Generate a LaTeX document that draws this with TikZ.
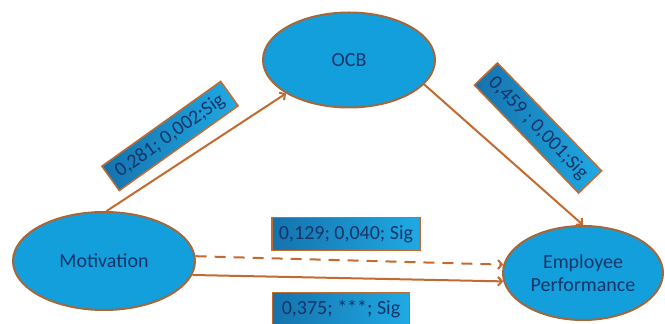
\documentclass[tikz,border=0pt]{standalone}
\usepackage{fontspec}
\setmainfont{Carlito}
\usetikzlibrary{shapes.geometric,arrows.meta}
\definecolor{fillblue}{HTML}{129FDC}
\definecolor{rimbrown}{HTML}{A5673A}
\definecolor{arrowbrown}{HTML}{C26A30}
\definecolor{textnavy}{HTML}{15356A}
\definecolor{boxdark}{HTML}{1572AD}
\definecolor{boxlight}{HTML}{1FAAE4}
\tikzset{
  var/.style={draw=rimbrown, line width=2pt, fill=fillblue, ellipse, inner sep=0pt,
    text=textnavy, align=center, font=\fontsize{20}{23}\selectfont},
  coef/.style={draw=arrowbrown, line width=1.5pt, left color=boxdark, right color=boxlight,
    text=textnavy, inner sep=0pt, font=\fontsize{20}{23}\selectfont},
  link/.style={draw=arrowbrown, line width=2pt}
}
\begin{document}
\begin{tikzpicture}[x=1pt,y=1pt,->,>={Straight Barb[length=4pt,width=9pt]}]
		\useasboundingbox (0,0) rectangle (665,324);
		\node (ocb) [var, minimum width=172, minimum height=95] at (349,264) {OCB};
		\node (mot) [var, minimum width=182, minimum height=98] at (104,63) {Motivation};
		\node (ep) [var, minimum width=160, minimum height=94] at (583,51) {Employee\\Performance};
		\node (c1) [coef, rotate=35.5, minimum width=146, minimum height=30] at (170,188) {0,281; 0,002;Sig};
		\node (c2) [coef, rotate=-46, minimum width=150, minimum height=32] at (538,196) {0,459 ; 0,001;Sig};
		\node (c3) [coef, minimum width=148, minimum height=33] at (346,90) {0,129; 0,040; Sig};
		\node (c4) [coef, minimum width=137, minimum height=33] at (341,15) {0,375; ***; Sig};
		\draw [link] (mot.87) -> (ocb.208);
		\draw [link] (ocb.-18) -> (ep.north);
		\draw [link, dash pattern=on 11pt off 8pt] (mot.3) -> (ep.174);
		\draw [link] (mot.-9) -> (ep.186);
\end{tikzpicture}
\end{document}
